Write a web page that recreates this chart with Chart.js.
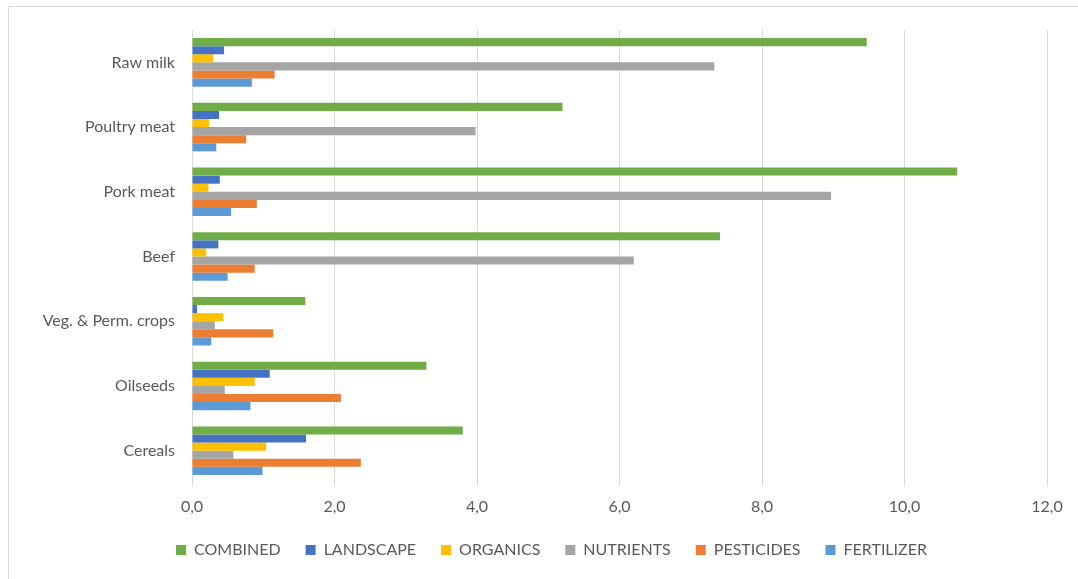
<!DOCTYPE html>
<html>
<head>
<meta charset="utf-8">
<script src="https://cdn.jsdelivr.net/npm/chart.js@4.4.1/dist/chart.umd.min.js"></script>
<style>
  html, body { margin: 0; padding: 0; background: #fff; }
  #wrap { position: relative; width: 1078px; height: 579px; overflow: hidden; }
  #frame {
    position: absolute; left: 8px; top: 6px; width: 1090px; height: 590px;
    border: 1px solid #d9d9d9; box-sizing: border-box; pointer-events: none;
  }
  canvas { position: absolute; left: 0; top: 0; }
</style>
</head>
<body>
<div id="wrap">
  <div id="frame"></div>
  <canvas id="chart" width="1078" height="579"></canvas>
</div>
<script>
// Categories, top to bottom as drawn
const categories = ['Raw milk', 'Poultry meat', 'Pork meat', 'Beef', 'Veg. & Perm. crops', 'Oilseeds', 'Cereals'];

// Series values (same order as categories)
const combined   = [9.47, 5.20, 10.74, 7.41, 1.59, 3.29, 3.80];
const landscape  = [0.45, 0.38, 0.39, 0.37, 0.07, 1.09, 1.60];
const organics   = [0.30, 0.24, 0.23, 0.20, 0.44, 0.88, 1.04];
const nutrients  = [7.33, 3.98, 8.97, 6.20, 0.32, 0.46, 0.58];
const pesticides = [1.16, 0.76, 0.91, 0.88, 1.14, 2.09, 2.37];
const fertilizer = [0.84, 0.34, 0.55, 0.50, 0.27, 0.82, 0.99];

const seriesNames = ['COMBINED', 'LANDSCAPE', 'ORGANICS', 'NUTRIENTS', 'PESTICIDES', 'FERTILIZER'];
const seriesColors = ['#70AD47', '#4472C4', '#FFC000', '#A5A5A5', '#ED7D31', '#5B9BD5'];
const seriesData = [combined, landscape, organics, nutrients, pesticides, fertilizer];

const textColor = '#595959';
const fontFamily = "Lato, 'Open Sans', sans-serif";

const datasets = seriesNames.map((name, i) => ({
  label: name,
  data: seriesData[i],
  backgroundColor: seriesColors[i],
  borderWidth: 0,
  categoryPercentage: 0.75,
  barPercentage: 1.0
}));

new Chart(document.getElementById('chart'), {
  type: 'bar',
  data: { labels: categories, datasets: datasets },
  options: {
    indexAxis: 'y',
    responsive: false,
    animation: false,
    // left/right padding is uneven so the legend sits where the original has it
    layout: { padding: { top: 30, right: 6, bottom: 11, left: 31 } },
    plugins: {
      legend: {
        position: 'bottom',
        labels: {
          color: textColor,
          font: { family: fontFamily, size: 16 },
          boxWidth: 10,
          boxHeight: 10,
          padding: 25
        }
      },
      tooltip: { enabled: false }
    },
    scales: {
      x: {
        min: 0,
        max: 12,
        ticks: {
          stepSize: 2,
          color: textColor,
          font: { family: fontFamily, size: 16 },
          padding: 11,
          callback: v => v.toFixed(1).replace('.', ',')
        },
        grid: { color: '#d9d9d9', lineWidth: 1, tickLength: 3 },
        border: { display: false },
        afterFit: scale => {
          scale.height = 34;
          // room right of the 12,0 gridline
          scale.paddingRight = 31;
        }
      },
      y: {
        ticks: {
          color: textColor,
          font: { family: fontFamily, size: 16 },
          padding: 9
        },
        grid: { display: false },
        border: { display: false },
        afterFit: scale => { scale.width = 161; }
      }
    }
  }
});
</script>
</body>
</html>
